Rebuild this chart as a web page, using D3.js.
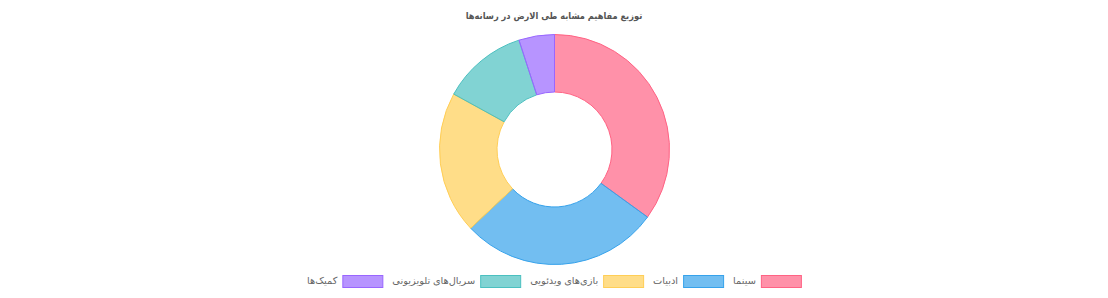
<!DOCTYPE html>
<html><head><meta charset="utf-8">
<script src="https://cdn.jsdelivr.net/npm/d3@7"></script>
<style>body{margin:0;background:#fff;}svg{display:block;}</style>
</head><body>
<svg id="c" width="1108" height="298"></svg>
<script>
const title = "توزیع مفاهیم مشابه طی الارض در رسانه‌ها";
const categories = ["سینما", "ادبیات", "بازی‌های ویدئویی", "سریال‌های تلویزیونی", "کمیک‌ها"];
const values = [35, 28, 20, 12, 5];
const borderColors = ["rgb(255,99,132)", "rgb(54,162,235)", "rgb(255,206,86)", "rgb(75,192,192)", "rgb(153,102,255)"];
const fillColors = ["rgba(255,99,132,0.7)", "rgba(54,162,235,0.7)", "rgba(255,206,86,0.7)", "rgba(75,192,192,0.7)", "rgba(153,102,255,0.7)"];

const svg = d3.select("#c");
const W = 1108, cx = 554.5, cy = 149.5, R = 115, r = 57.5;
const font = "'Helvetica Neue', Helvetica, Arial, 'DejaVu Sans', sans-serif";

svg.append("text").attr("x", W/2).attr("y", 16).attr("text-anchor","middle")
  .attr("dominant-baseline","middle").attr("font-family","'DejaVu Sans Condensed', 'DejaVu Sans', sans-serif").attr("font-size",9.2)
  .attr("font-weight","bold").attr("fill","#555").attr("direction","rtl").attr("unicode-bidi","embed")
  .attr("text-anchor","middle").text(title);

const pie = d3.pie().sort(null).value(d => d)(values);
const arc = d3.arc().innerRadius(r).outerRadius(R);
const g = svg.append("g").attr("transform", `translate(${cx},${cy})`);
g.selectAll("path").data(pie).join("path").attr("d", arc)
  .attr("fill", (d,i) => fillColors[i]).attr("stroke", (d,i) => borderColors[i]).attr("stroke-width", 1);

// legend (RTL: box on right, text to its left)
const lg = svg.append("g");
const boxW = 40, boxH = 12, fs = 9.8, gap = 5, pad = 10;
const items = categories.map((c,i) => {
  const t = lg.append("text").attr("font-family",font).attr("font-size",fs).attr("fill","#666")
    .attr("dominant-baseline","middle").attr("y", 281).attr("text-anchor","end").text(c);
  return {t, w: t.node().getComputedTextLength(), i};
});
const total = d3.sum(items, d => boxW + gap + d.w) + pad*(items.length-1);
let xr = W/2 + total/2;
items.forEach(d => {
  lg.append("rect").attr("x", xr - boxW + 0.5).attr("y", 275.5).attr("width", boxW).attr("height", boxH)
    .attr("fill", fillColors[d.i]).attr("stroke", borderColors[d.i]).attr("stroke-width",1);
  d.t.attr("x", xr - boxW - gap);
  xr -= boxW + gap + d.w + pad;
});
</script>
</body></html>
